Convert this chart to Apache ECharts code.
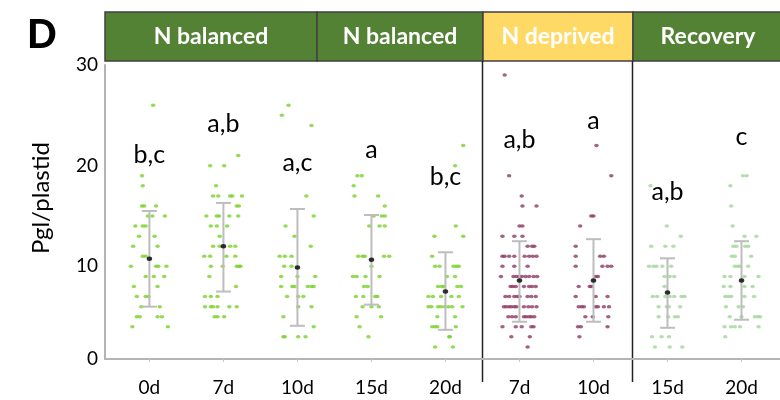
<!DOCTYPE html>
<html><head><meta charset="utf-8">
<script src="https://cdn.jsdelivr.net/npm/echarts@6/dist/echarts.min.js"></script>
<style>html,body{margin:0;padding:0;background:#fff}#c{width:780px;height:400px}</style>
</head><body><div id="c"></div>
<script>
// ---- data ----
const categories = ['0d','7d','10d','15d','20d','7d','10d','15d','20d'];
const groupCondition = ['bal','bal','bal','bal','bal','dep','dep','rec','rec'];
const headerLabels = ['N balanced','N balanced','N deprived','Recovery'];
const yTickValues = [0, 10, 20, 30];
const yTickLabels = ['0','10','20','30'];

// each row: [Pgl/plastid value, [horizontal jitter of each dot at that value]]
const dots_bal_0d = [[26,[0.05]],[19,[-0.10]],[18,[-0.09]],[16,[-0.10,-0.07,0.09]],[15,[-0.02,0.04,0.21]],
  [14,[-0.19,-0.09,-0.05]],[13,[-0.14,0.07]],[12,[-0.22,0.11]],[11,[-0.09,-0.05]],[10,[-0.25,0.09,0.12,0.23]],
  [9,[-0.05,0.06,0.20]],[8,[-0.21,0.11]],[7,[-0.17,-0.05,-0.01]],[6,[-0.11,0.14]],[5,[-0.17,-0.13,0.11,0.17]],[4,[-0.23,0.25]]];
const dots_bal_7d = [[21,[0.20]],[20,[-0.18,0.01]],[18,[-0.10]],[17,[-0.14,-0.07,0.09,0.12,0.25]],[16,[0.18,0.21]],
  [15,[-0.23,-0.09,-0.06,0.08,0.20]],[14,[-0.17,-0.09,0.05]],[13,[-0.05]],[12,[-0.14,-0.05,0.09,0.16]],
  [11,[-0.26,-0.18,0.04,0.16]],[10,[-0.17,-0.01,0.18,0.21,0.23]],[9,[-0.19]],[8,[0.17]],[7,[-0.25,-0.17,-0.08]],
  [6,[-0.25,-0.17,-0.14,-0.08,0.08,0.18]],[5,[-0.12,-0.08,0.01]]];
const dots_bal_10d = [[26,[-0.12]],[25,[-0.21]],[24,[0.19]],[17,[0.12]],[15,[0.22]],[14,[-0.16]],[13,[-0.04]],[12,[0.18]],
  [11,[-0.24,-0.17,-0.08]],[10,[-0.18,-0.08]],[9,[-0.22,0.00,0.24]],[8,[-0.22,-0.07,-0.04,0.14,0.19,0.22]],
  [7,[-0.14,0.01,0.08]],[6,[0.01,0.19]],[5,[-0.19]],[4,[0.22]],[3,[-0.19,-0.17,0.01,0.11]]];
const dots_bal_15d = [[19,[-0.19,-0.13]],[18,[-0.24]],[17,[-0.23,0.09]],[16,[0.18]],[15,[0.03,0.14,0.18]],
  [14,[-0.03,0.11,0.18]],[11,[-0.18,-0.12,-0.09,0.17,0.24]],[10,[0.00]],[9,[-0.25,-0.20,-0.08,0.11]],[8,[-0.10,-0.05]],
  [7,[-0.21,-0.11,0.05,0.08]],[6,[-0.12,0.00,0.10]],[5,[-0.20,0.13]],[4,[-0.16]],[3,[-0.04]]];
const dots_bal_20d = [[22,[0.24]],[20,[0.13]],[14,[0.14]],[13,[-0.15,0.24]],[11,[-0.18]],[10,[-0.14,-0.08,0.11,0.15,0.18]],
  [9,[0.02,0.13]],[8,[-0.10,-0.05,-0.02,0.16,0.21]],[7,[-0.23,-0.17,-0.06,0.08,0.18]],
  [6,[-0.23,-0.19,-0.10,-0.06,-0.01,0.04,0.09,0.23]],[5,[-0.11,0.13]],[4,[-0.18,-0.14,-0.11,0.14]],[3,[0.05,0.06]],[2,[-0.14,0.10]]];
const dots_dep_7d = [[29,[-0.20]],[19,[-0.14]],[17,[0.03]],[16,[0.04,0.23]],[14,[0.00,0.04]],[13,[-0.23,-0.07,0.04]],
  [12,[0.11,0.17,0.20]],[11,[-0.23,-0.20,-0.14,-0.07,0.07,0.13,0.18,0.23]],[10,[-0.23,-0.07,0.11]],
  [9,[-0.25,-0.08,-0.04,0.00,0.03,0.08,0.13,0.19,0.24]],[8,[-0.12,-0.09,-0.05,0.06,0.13,0.17,0.22]],
  [7,[-0.19,-0.14,-0.07,-0.03,0.00,0.11,0.16,0.22]],[6,[-0.21,-0.18,-0.14,-0.11,-0.07,-0.04,0.06,0.12,0.17,0.23]],
  [5,[-0.15,-0.10,-0.05,0.06,0.09,0.13,0.16,0.20]],[4,[-0.23,-0.05,0.03,0.16,0.19]],[3,[-0.11,0.14]],[2,[0.11]]];
const dots_dep_10d = [[22,[0.04]],[19,[0.24]],[15,[-0.03,0.00]],[14,[-0.18]],[12,[-0.24]],[11,[-0.24,0.09,0.14]],
  [10,[-0.24,0.12,0.19,0.24]],[9,[0.03,0.06]],[8,[-0.20,-0.05,-0.03]],[7,[-0.24,0.03,0.19]],
  [6,[-0.20,-0.16,-0.13,0.03,0.06,0.14,0.21]],[5,[-0.11,-0.01,0.20]],[4,[-0.21,-0.17,0.19]],[3,[-0.19]]];
const dots_rec_15d = [[18,[-0.23]],[14,[-0.01]],[13,[0.18]],[12,[-0.22,-0.03,0.08]],[10,[-0.25,-0.19,-0.15,-0.07,0.05]],
  [9,[-0.04,0.03,0.09]],[8,[-0.04]],[7,[-0.20,-0.14,-0.03,0.03,0.09,0.19,0.23]],[6,[-0.12,-0.01,0.02,0.17]],
  [5,[-0.12,0.01,0.10,0.14]],[3,[-0.21,-0.08,0.02]],[2,[-0.17,0.03,0.20]]];
const dots_rec_20d = [[19,[0.02,0.07]],[18,[-0.15]],[16,[-0.14]],[14,[-0.12]],[13,[0.04,0.20]],[12,[-0.11,-0.07,0.05,0.09]],
  [11,[-0.13,-0.09,0.13]],[10,[-0.09,-0.05,-0.02,0.09]],[9,[-0.23,-0.15,0.04,0.23]],[8,[-0.24,-0.15,0.04,0.15]],
  [7,[-0.22,-0.18,-0.14,0.04,0.17]],[6,[-0.21,-0.04,0.02]],[5,[-0.16,0.00,0.18,0.22,0.25]],
  [4,[-0.23,-0.14,-0.09,-0.02,0.23]],[3,[-0.22]]];

const means   = [10.75, 12.0, 9.9, 10.65, 7.5, 8.6, 8.6, 7.4, 8.6];
const errHigh = [15.5, 16.3, 15.7, 15.1, 11.4, 12.5, 12.7, 10.8, 12.5];
const errLow  = [6.0, 7.5, 4.1, 6.2, 3.7, 4.5, 4.5, 3.9, 4.7];
const letters = ['b,c','a,b','a,c','a','b,c','a,b','a','a,b','c'];
const letterLevel = [21.1, 24.1, 20.3, 21.6, 18.9, 22.6, 24.4, 17.4, 22.9];

// ---- build ----
const groups = [dots_bal_0d, dots_bal_7d, dots_bal_10d, dots_bal_15d, dots_bal_20d,
                dots_dep_7d, dots_dep_10d, dots_rec_15d, dots_rec_20d];
const colors = {bal:'#79d22b', dep:'#8c3b64', rec:'#a2d69c'};
const pts = {bal:[], dep:[], rec:[]};
groups.forEach((rows, g) => {
  rows.forEach(([v, js]) => js.forEach(j => pts[groupCondition[g]].push([g + j, v])));
});
const FONT = 'Lato';
const chart = echarts.init(document.getElementById('c'), null, {renderer:'canvas'});
const yMin = 0.8;
const option = {
  animation:false,
  textStyle:{fontFamily:FONT},
  grid:{left:105, right:0, top:65, bottom:41, containLabel:false},
  xAxis:{type:'value', min:-0.6, max:8.52,
    axisLine:{show:true, onZero:false, lineStyle:{color:'#b4b4b4', width:2}},
    axisTick:{show:true, customValues:categories.map((c,i)=>i), length:3, lineStyle:{color:'#c8c8c8'}},
    axisLabel:{customValues:categories.map((c,i)=>i), formatter:v=>categories[Math.round(v)],
      color:'#000', fontSize:19, fontFamily:FONT, margin:19},
    splitLine:{show:false}},
  yAxis:{type:'value', min:yMin, max:30,
    axisLine:{show:true, onZero:false, lineStyle:{color:'#b4b4b4', width:2}},
    axisTick:{show:false},
    axisLabel:{customValues:yTickValues.map(v=>Math.max(v,yMin)),
      formatter:v=>yTickLabels[yTickValues.indexOf(Math.round(v/10)*10)],
      color:'#000', fontSize:19, fontFamily:FONT, margin:7},
    splitLine:{show:false}},
  series:[
    ...['bal','dep','rec'].map(k=>({type:'scatter', data:pts[k], symbol:'circle', symbolSize:[4.5,3.5],
      itemStyle:{color:colors[k]}, z:2})),
    {type:'custom', z:3, data:categories.map((c,i)=>[i, errLow[i], errHigh[i]]),
      renderItem:(params, api)=>{
        const x = api.value(0);
        const lo = api.coord([x, api.value(1)]);
        const hi = api.coord([x, api.value(2)]);
        const hw = 7.5;
        const st = {stroke:'#bdbdbd', lineWidth:2};
        return {type:'group', children:[
          {type:'line', shape:{x1:lo[0],y1:lo[1],x2:hi[0],y2:hi[1]}, style:st},
          {type:'line', shape:{x1:hi[0]-hw,y1:hi[1],x2:hi[0]+hw,y2:hi[1]}, style:st},
          {type:'line', shape:{x1:lo[0]-hw,y1:lo[1],x2:lo[0]+hw,y2:lo[1]}, style:st}
        ]};
      }},
    {type:'scatter', z:4, data:categories.map((c,i)=>[i, means[i]]), symbolSize:[5.5,4.5], itemStyle:{color:'#000'}},
    {type:'custom', z:5, data:categories.map((c,i)=>[i, letterLevel[i]]),
      renderItem:(params, api)=>{
        const p = api.coord([api.value(0), api.value(1)]);
        return {type:'text', x:p[0], y:p[1], style:{text:letters[params.dataIndex], fill:'#000',
          font:'25px Lato', align:'center', verticalAlign:'middle'}};
      }}
  ],
  graphic:[
    {type:'text', left:27, top:16, style:{text:'D', font:'900 39px Lato', fill:'#000'}},
    {type:'text', x:41, y:198, rotation:Math.PI/2, style:{text:'Pgl/plastid', font:'24px Lato', fill:'#000',
      align:'center', verticalAlign:'middle'}},
    {type:'rect', shape:{x:105, y:12, width:212, height:49}, style:{fill:'#548235', stroke:'#404040', lineWidth:1.5}},
    {type:'rect', shape:{x:317, y:12, width:166, height:49}, style:{fill:'#548235', stroke:'#404040', lineWidth:1.5}},
    {type:'rect', shape:{x:483, y:12, width:150, height:49}, style:{fill:'#FFD966', stroke:'#404040', lineWidth:1.5}},
    {type:'rect', shape:{x:633, y:12, width:152, height:49}, style:{fill:'#548235', stroke:'#404040', lineWidth:1.5}},
    {type:'text', x:211, y:37, style:{text:headerLabels[0], font:'bold 23px Lato', fill:'#fff', align:'center', verticalAlign:'middle'}},
    {type:'text', x:400, y:37, style:{text:headerLabels[1], font:'bold 23px Lato', fill:'#fff', align:'center', verticalAlign:'middle'}},
    {type:'text', x:558, y:37, style:{text:headerLabels[2], font:'bold 23px Lato', fill:'#fff', align:'center', verticalAlign:'middle'}},
    {type:'text', x:708, y:37, style:{text:headerLabels[3], font:'bold 23px Lato', fill:'#fff', align:'center', verticalAlign:'middle'}},
    {type:'line', shape:{x1:482.5, y1:61, x2:482.5, y2:382}, style:{stroke:'#222', lineWidth:1.5}},
    {type:'line', shape:{x1:632.5, y1:61, x2:632.5, y2:382}, style:{stroke:'#222', lineWidth:1.5}}
  ]
};
chart.setOption(option);
</script></body></html>
